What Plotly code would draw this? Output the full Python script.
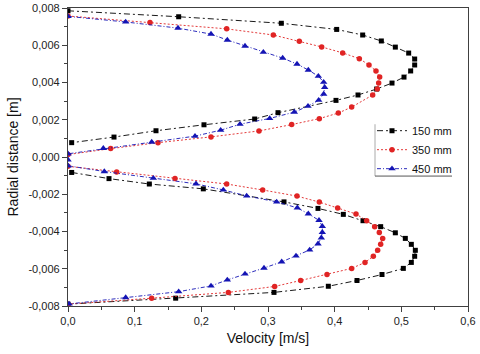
import plotly.graph_objects as go

# velocity [m/s] and radial distance [m]
v_150 = [0.0, 0.166, 0.320, 0.403, 0.442, 0.470, 0.491, 0.511, 0.520, 0.520, 0.514, 0.504,
         0.486, 0.463, 0.435, 0.402, 0.315, 0.280, 0.204, 0.132, 0.069, 0.0055, None,
         0.0055, 0.0615, 0.122, 0.203, 0.324, 0.375, 0.413, 0.4425, 0.469, 0.491, 0.506,
         0.515, 0.521, 0.520, 0.515, 0.503, 0.471, 0.4335, 0.3905, 0.309, 0.1615, 0.0]
r_150 = [0.00785, 0.00753, 0.00718, 0.00685, 0.00655, 0.00623, 0.00590, 0.00558, 0.00526,
         0.00494, 0.00462, 0.00429, 0.00397, 0.00365, 0.00333, 0.00304, 0.00238, 0.00204,
         0.00173, 0.00141, 0.00107, 0.00077, None,
         -0.00083, -0.00116, -0.00145, -0.00171, -0.00241, -0.00276, -0.00308, -0.00342,
         -0.00374, -0.00407, -0.00437, -0.00469, -0.00501, -0.00533, -0.00566, -0.00598,
         -0.00631, -0.00663, -0.00694, -0.00727, -0.00758, -0.00790]

v_350 = [0.0, 0.123, 0.238, 0.308, 0.347, 0.3805, 0.412, 0.437, 0.4515, 0.462, 0.4675,
         0.466, 0.464, 0.457, 0.4255, 0.4055, 0.377, 0.3355, 0.2865, 0.2145, 0.135, 0.064,
         0.0, None,
         0.0, 0.073, 0.1605, 0.238, 0.292, 0.3435, 0.377, 0.4045, 0.432, 0.448, 0.460, 0.467,
         0.472, 0.469, 0.4645, 0.458, 0.4455, 0.4255, 0.3885, 0.349, 0.310, 0.2405, 0.1255,
         0.0]
r_350 = [0.00757, 0.00722, 0.00688, 0.00655, 0.00621, 0.00591, 0.00559, 0.00528, 0.00494,
         0.00462, 0.00430, 0.00397, 0.00365, 0.00333, 0.00268, 0.00236, 0.00206, 0.00174,
         0.00140, 0.00108, 0.00077, 0.00045, 0.00013, None,
         -0.00050, -0.00080, -0.00115, -0.00145, -0.00177, -0.00210, -0.00242, -0.00274,
         -0.00306, -0.00342, -0.00374, -0.00406, -0.00437, -0.00469, -0.00501, -0.00533,
         -0.00566, -0.00598, -0.00631, -0.00663, -0.00695, -0.00727, -0.00758, -0.00790]

v_450 = [0.0, 0.0865, 0.165, 0.2145, 0.239, 0.2655, 0.293, 0.322, 0.3435, 0.3605, 0.3755,
         0.3835, 0.385, 0.3835, 0.376, 0.360, 0.3395, 0.3025, 0.258, 0.229, 0.1905, 0.1255,
         0.053, 0.0, 0.0, 0.0, 0.0545, 0.128, 0.192, 0.233, 0.268, 0.313, 0.344, 0.3605,
         0.3765, 0.3815, 0.3815, 0.380, 0.375, 0.3625, 0.342, 0.3205, 0.294, 0.2655, 0.239,
         0.2145, 0.166, 0.0865, 0.0015]
r_450 = [0.00755, 0.00725, 0.00692, 0.00660, 0.00628, 0.00596, 0.00563, 0.00531, 0.00499,
         0.00467, 0.00434, 0.00402, 0.00374, 0.00338, 0.00305, 0.00273, 0.00241, 0.00207,
         0.00176, 0.00144, 0.00112, 0.00080, 0.00047, 0.00017, -0.00015, -0.00047,
         -0.00078, -0.00114, -0.00144, -0.00177, -0.00209, -0.00241, -0.00273, -0.00305,
         -0.00340, -0.00372, -0.00404, -0.00434, -0.00466, -0.00499, -0.00531, -0.00563,
         -0.00596, -0.00628, -0.00660, -0.00692, -0.00723, -0.00755, -0.00789]

x_ticks = [0.0, 0.1, 0.2, 0.3, 0.4, 0.5, 0.6]
x_labels = ["0,0", "0,1", "0,2", "0,3", "0,4", "0,5", "0,6"]
y_ticks = [-0.008, -0.006, -0.004, -0.002, 0.0, 0.002, 0.004, 0.006, 0.008]
y_labels = ["-0,008", "-0,006", "-0,004", "-0,002", "0,000", "0,002", "0,004", "0,006", "0,008"]

series = [
    ("150 mm", v_150, r_150, "#000000", "square", 5, "6px,3px,2px,3px"),
    ("350 mm", v_350, r_350, "#e02424", "circle", 5.5, "2px,2px"),
    ("450 mm", v_450, r_450, "#1414b4", "triangle-up", 6.5, "4px,2px,1px,2px"),
]

fig = go.Figure()
for name, xs, ys, color, symbol, size, dash in series:
    fig.add_trace(
        go.Scatter(
            x=xs,
            y=ys,
            name=name,
            mode="lines+markers",
            connectgaps=False,
            line={"color": color, "width": 0.9, "dash": dash},
            marker={"symbol": symbol, "size": size, "color": color},
        )
    )

axis_common = dict(
    showgrid=False,
    zeroline=False,
    showline=True,
    mirror=True,
    linecolor="#404040",
    linewidth=1.3,
    ticks="outside",
    ticklen=5,
    tickcolor="#404040",
    tickfont={"family": "Liberation Sans, Arial", "size": 11, "color": "#222"},
)

fig.update_xaxes(
    **axis_common,
    range=[0, 0.6],
    tickvals=x_ticks,
    ticktext=x_labels,
    minor={"dtick": 0.05, "ticks": "outside", "ticklen": 3, "tickcolor": "#404040"},
    title={"text": "Velocity [m/s]", "font": {"family": "Liberation Sans, Arial", "size": 14, "color": "#111"},
           "standoff": 6},
)
fig.update_yaxes(
    **axis_common,
    range=[-0.008, 0.008],
    tickvals=y_ticks,
    ticktext=y_labels,
    minor={"dtick": 0.001, "ticks": "outside", "ticklen": 3, "tickcolor": "#404040"},
    title={"text": "Radial distance [m]", "font": {"family": "Liberation Sans, Arial", "size": 14, "color": "#111"},
           "standoff": 6},
)

fig.update_layout(
    width=480,
    height=354,
    margin={"l": 68, "r": 12, "t": 8, "b": 48, "autoexpand": False},
    paper_bgcolor="white",
    plot_bgcolor="white",
    showlegend=True,
    legend={
        "x": 0.76,
        "y": 0.637,
        "xanchor": "left",
        "yanchor": "top",
        "bgcolor": "rgba(255,255,255,0)",
        "font": {"family": "Liberation Sans, Arial", "size": 11, "color": "#111"},
        "tracegroupgap": 0,
        "itemwidth": 30,
    },
    shapes=[
        {"type": "line", "xref": "paper", "yref": "paper", "x0": 0.7675, "x1": 0.7675,
         "y0": 0.436, "y1": 0.61, "line": {"color": "#aaa", "width": 1}},
        {"type": "line", "xref": "paper", "yref": "paper", "x0": 0.7675, "x1": 0.96,
         "y0": 0.436, "y1": 0.436, "line": {"color": "#555", "width": 1}},
    ],
)

# drop the default body margin so the figure fills the window exactly
fig.write_html(
    "out.html",
    config={"displayModeBar": False},
    post_script="document.body.style.margin = '0';",
)
